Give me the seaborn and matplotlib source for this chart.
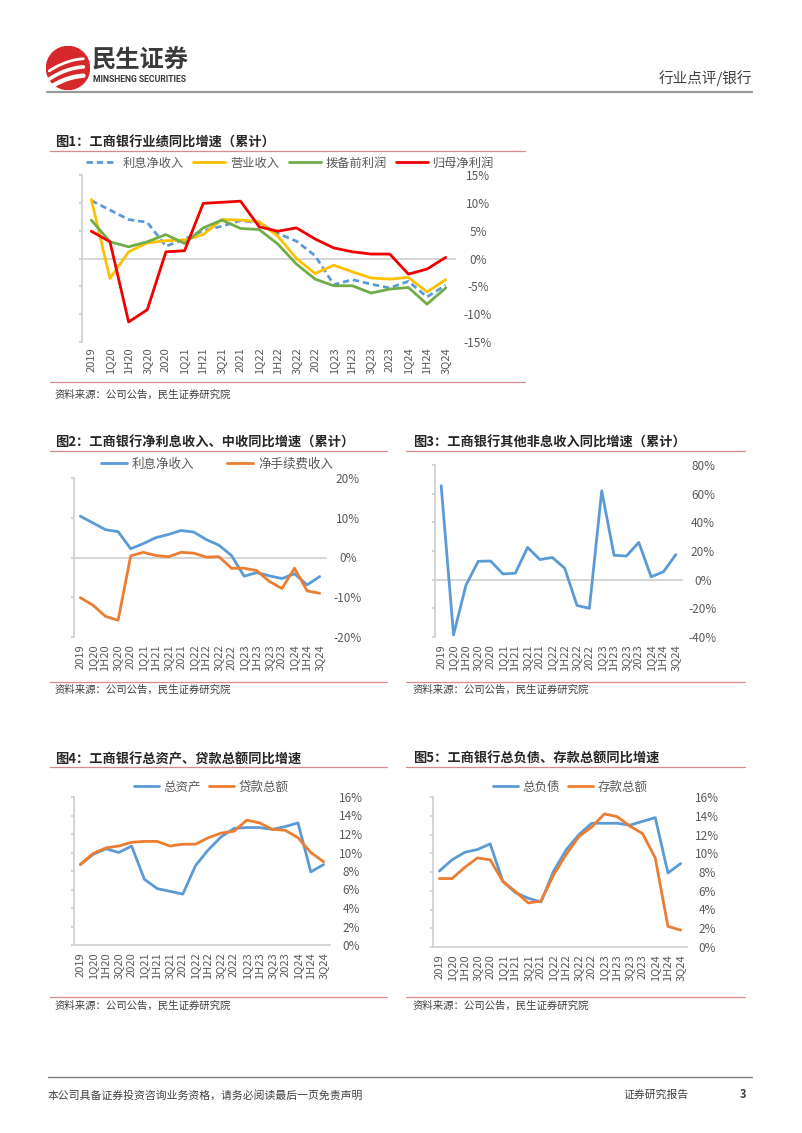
import numpy as np
import matplotlib
matplotlib.use("Agg")
import matplotlib.pyplot as plt
import seaborn as sns
from matplotlib.lines import Line2D
from matplotlib.patches import Circle

# categories (shared by all five charts)
quarters = ['2019', '1Q20', '1H20', '3Q20', '2020', '1Q21', '1H21', '3Q21', '2021', '1Q22',
            '1H22', '3Q22', '2022', '1Q23', '1H23', '3Q23', '2023', '1Q24', '1H24', '3Q24']

# fig1: performance yoy (%)
nii = [10.4, 8.7, 7.0, 6.5, 2.2, 3.5, 5.0, 5.8, 6.8, 6.4, 4.5, 3.1, 0.5, -4.7, -3.8, -4.6, -5.3, -4.1, -6.9, -4.8]
revenue = [10.6, -3.6, 1.2, 2.8, 3.2, 3.3, 4.3, 7.0, 6.9, 6.6, 4.0, 0.0, -2.7, -1.2, -2.4, -3.5, -3.7, -3.4, -6.0, -3.8]
ppop = [6.9, 3.0, 2.1, 3.0, 4.3, 2.7, 5.5, 6.9, 5.4, 5.2, 2.6, -1.0, -3.7, -4.9, -4.9, -6.2, -5.5, -5.2, -8.2, -5.3]
net_profit = [4.9, 3.0, -11.4, -9.2, 1.2, 1.4, 9.9, 10.1, 10.3, 5.7, 4.9, 5.5, 3.5, 1.9, 1.2, 0.8, 0.8, -2.8, -1.9, 0.2]

# fig2: NII vs fee income yoy (%)
fee_income = [-10.1, -12.0, -14.8, -15.8, 0.4, 1.3, 0.5, 0.2, 1.3, 1.1, 0.1, 0.2, -2.7, -2.7, -3.3, -6.0, -7.8, -2.7, -8.4, -9.0]

# fig3: other non-interest income yoy (%)
other_nii = [65.5, -38.5, -4.0, 12.8, 13.0, 4.0, 4.5, 22.5, 14.0, 15.5, 8.0, -18.0, -20.0, 62.0, 17.0, 16.5, 26.0, 2.0, 5.5, 17.5]

# fig4: assets / loans yoy (%)
assets = [8.7, 9.8, 10.4, 10.0, 10.7, 7.1, 6.1, 5.8, 5.5, 8.6, 10.3, 11.7, 12.6, 12.7, 12.7, 12.5, 12.8, 13.2, 7.9, 8.7]
loans = [8.7, 9.9, 10.5, 10.7, 11.1, 11.2, 11.2, 10.7, 10.9, 10.9, 11.6, 12.1, 12.3, 13.5, 13.2, 12.5, 12.4, 11.6, 10.0, 9.0]

# fig5: liabilities / deposits yoy (%)
liabilities = [8.1, 9.3, 10.1, 10.4, 11.0, 7.0, 5.8, 5.2, 4.8, 8.1, 10.4, 12.0, 13.2, 13.2, 13.2, 13.0, 13.4, 13.8, 7.9, 8.9]
deposits = [7.3, 7.3, 8.5, 9.5, 9.3, 7.0, 5.9, 4.7, 4.9, 7.7, 9.9, 11.8, 12.8, 14.2, 13.9, 12.9, 12.1, 9.5, 2.2, 1.8]

yticks1 = [-15, -10, -5, 0, 5, 10, 15]
yticks2 = [-20, -10, 0, 10, 20]
yticks3 = [-40, -20, 0, 20, 40, 60, 80]
yticks45 = [0, 2, 4, 6, 8, 10, 12, 14, 16]

sns.set_theme(style="white")
plt.rcParams['font.family'] = ['Noto Sans CJK SC', 'DejaVu Sans']
plt.rcParams['axes.unicode_minus'] = False

W, H = 802, 1133
fig = plt.figure(figsize=(W / 100, H / 100), dpi=100)
fig.patch.set_facecolor('white')

BLUE = '#5B9BD5'
ORANGE = '#ED7D31'
YELLOW = '#FFC000'
GREEN = '#70AD47'
RED = '#F00000'
GRID = '#D0D0D0'
TXT = '#595959'
RULE = '#d98a8a'


def ftext(x, y, s, **kw):
    fig.text(x / W, 1 - y / H, s, **kw)


def hline(x1, x2, y, **kw):
    fig.add_artist(Line2D([x1 / W, x2 / W], [1 - y / H, 1 - y / H], transform=fig.transFigure, **kw))


def make_axes(l, t, r, b):
    return fig.add_axes([l / W, 1 - b / H, (r - l) / W, (b - t) / H])


def style_axes(ax, yticks, label_dist, xpad):
    n = len(quarters)
    pos = np.arange(n)
    ax.set_xlim(-0.5, n - 0.5)
    ax.set_ylim(yticks[0], yticks[-1])
    ax.set_facecolor('white')
    for s in ['top', 'right']:
        ax.spines[s].set_visible(False)
    ax.spines['left'].set_color(GRID)
    ax.spines['bottom'].set_color(GRID)
    ax.spines['bottom'].set_position(('data', 0))
    ax.spines['bottom'].set_zorder(0)
    # category boundary ticks on the zero line
    ax.set_xticks(np.arange(n + 1) - 0.5)
    ax.tick_params(axis='x', which='major', length=3, color=GRID, direction='out', labelbottom=False)
    # category labels at bottom
    sec = ax.secondary_xaxis('bottom')
    sec.set_xticks(pos)
    sec.set_xticklabels(quarters, rotation=90, fontsize=8, color=TXT)
    sec.tick_params(length=0, pad=xpad)
    sec.spines['bottom'].set_visible(False)
    ax.set_yticks(yticks)
    ax.set_yticklabels([f'{v}%' for v in yticks])
    ax.tick_params(axis='y', left=True, right=False, labelleft=False, labelright=True,
                   length=2.2, color=GRID, direction='out', labelsize=8.5, labelcolor=TXT,
                   pad=label_dist * 0.72 - 2.2)
    for tk in ax.yaxis.get_major_ticks():
        tk.label2.set_horizontalalignment('center')
    ax.grid(False)
    ax.set_xlabel('')
    ax.set_ylabel('')


def place_legend(ax, cx, cy, ncol, hl, cs, fs):
    h, lab = ax.get_legend_handles_labels()
    ax.legend(h, lab, loc='center', bbox_to_anchor=(cx / W, 1 - cy / H), bbox_transform=fig.transFigure,
              ncol=ncol, frameon=False, fontsize=fs, handlelength=hl, handletextpad=0.4,
              columnspacing=cs, labelcolor=TXT, borderpad=0)


pos = np.arange(len(quarters))

# ---------------- header ----------------
logo = fig.add_axes([46 / W, 1 - 90 / H, 44 / W, 44 / H])
logo.set_xlim(-1, 1)
logo.set_ylim(-1, 1)
logo.set_aspect('equal')
logo.axis('off')
logo.add_patch(Circle((0, 0), 0.98, color='#D6282B'))
tt = np.linspace(0, 1, 50)
for off, w in [(-0.35, 3.2), (0.05, 2.6), (0.42, 2.0)]:
    xs = -0.85 + 1.55 * tt
    ys = -0.55 + off + 1.0 * tt - 0.45 * tt ** 2
    logo.plot(xs, ys, color='white', lw=w, solid_capstyle='round')
ftext(92, 61, '民生证券', fontsize=17.5, fontweight='bold', color='#3a3a3a', va='center', ha='left')
ftext(93, 80, 'MINSHENG SECURITIES', fontsize=6.2, fontweight='bold', color='#3a3a3a', va='center', ha='left',
      family=['Roboto', 'DejaVu Sans'])
ftext(752, 78, '行业点评/银行', fontsize=10.5, color='#404040', va='center', ha='right')
hline(47, 752, 92, color='#9a9a9a', lw=1.6)

# ---------------- figure 1 ----------------
ftext(55, 143, '图1：工商银行业绩同比增速（累计）', fontsize=9.5, fontweight='bold', color='#262626', va='center')
hline(50, 525, 151, color=RULE, lw=0.9)
ax1 = make_axes(82, 175, 455, 342)
sns.lineplot(x=pos, y=nii, ax=ax1, color=BLUE, lw=2, label='利息净收入')
ax1.lines[-1].set_dashes([2.3, 1.4])
sns.lineplot(x=pos, y=revenue, ax=ax1, color=YELLOW, lw=2, label='营业收入')
sns.lineplot(x=pos, y=ppop, ax=ax1, color=GREEN, lw=2, label='拨备前利润')
sns.lineplot(x=pos, y=net_profit, ax=ax1, color=RED, lw=2, label='归母净利润')
style_axes(ax1, yticks1, 23, 4)
place_legend(ax1, 290, 163, 4, 2.6, 0.8, 8.8)
hline(50, 525, 382, color=RULE, lw=0.9)
ftext(55, 395, '资料来源：公司公告，民生证券研究院', fontsize=7.5, color='#404040', va='center')

# ---------------- figure 2 ----------------
ftext(55, 443, '图2：工商银行净利息收入、中收同比增速（累计）', fontsize=9.5, fontweight='bold', color='#262626', va='center')
hline(50, 387, 451, color=RULE, lw=0.9)
ax2 = make_axes(74, 478, 326, 637)
sns.lineplot(x=pos, y=nii, ax=ax2, color=BLUE, lw=2, label='利息净收入')
sns.lineplot(x=pos, y=fee_income, ax=ax2, color=ORANGE, lw=2, label='净手续费收入')
style_axes(ax2, yticks2, 22, 5.5)
place_legend(ax2, 217, 464, 2, 2.1, 2.6, 9)
hline(50, 387, 682, color=RULE, lw=0.9)
ftext(55, 690, '资料来源：公司公告，民生证券研究院', fontsize=7.5, color='#404040', va='center')

# ---------------- figure 3 ----------------
ftext(413, 443, '图3：工商银行其他非息收入同比增速（累计）', fontsize=9.5, fontweight='bold', color='#262626', va='center')
hline(406, 745, 451, color=RULE, lw=0.9)
ax3 = make_axes(435, 465, 682, 637)
sns.lineplot(x=pos, y=other_nii, ax=ax3, color=BLUE, lw=2)
style_axes(ax3, yticks3, 21, 5.5)
hline(406, 745, 682, color=RULE, lw=0.9)
ftext(413, 690, '资料来源：公司公告，民生证券研究院', fontsize=7.5, color='#404040', va='center')

# ---------------- figure 4 ----------------
ftext(55, 759, '图4：工商银行总资产、贷款总额同比增速', fontsize=9.5, fontweight='bold', color='#262626', va='center')
hline(50, 387, 767, color=RULE, lw=0.9)
ax4 = make_axes(74, 797, 330, 945)
sns.lineplot(x=pos, y=assets, ax=ax4, color=BLUE, lw=2, label='总资产')
sns.lineplot(x=pos, y=loans, ax=ax4, color=ORANGE, lw=2, label='贷款总额')
style_axes(ax4, yticks45, 21, 5)
place_legend(ax4, 211, 787, 2, 2.0, 0.6, 9)
hline(50, 387, 997, color=RULE, lw=0.9)
ftext(55, 1006, '资料来源：公司公告，民生证券研究院', fontsize=7.5, color='#404040', va='center')

# ---------------- figure 5 ----------------
ftext(413, 759, '图5：工商银行总负债、存款总额同比增速', fontsize=9.5, fontweight='bold', color='#262626', va='center')
hline(406, 745, 767, color=RULE, lw=0.9)
ax5 = make_axes(433, 797, 687, 947)
sns.lineplot(x=pos, y=liabilities, ax=ax5, color=BLUE, lw=2, label='总负债')
sns.lineplot(x=pos, y=deposits, ax=ax5, color=ORANGE, lw=2, label='存款总额')
style_axes(ax5, yticks45, 20, 5)
place_legend(ax5, 570, 787, 2, 2.0, 0.6, 9)
hline(406, 745, 997, color=RULE, lw=0.9)
ftext(413, 1006, '资料来源：公司公告，民生证券研究院', fontsize=7.5, color='#404040', va='center')

# ---------------- footer ----------------
hline(48, 752, 1077, color='#7f7f7f', lw=1)
ftext(48, 1095, '本公司具备证券投资咨询业务资格，请务必阅读最后一页免责声明', fontsize=7.8, color='#404040', va='center')
ftext(623, 1095, '证券研究报告', fontsize=7.8, color='#404040', va='center')
ftext(740, 1095, '3', fontsize=8, color='#404040', va='center', fontweight='bold')

fig.savefig('out.png', dpi=100)
